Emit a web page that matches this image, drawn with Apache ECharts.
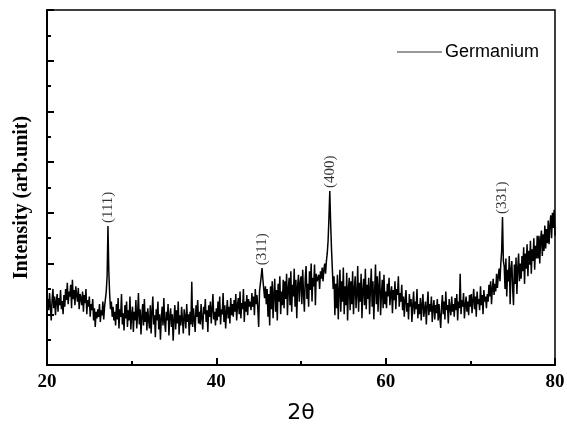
<!DOCTYPE html>
<html>
<head>
<meta charset="utf-8">
<script src="https://cdn.jsdelivr.net/npm/echarts@6/dist/echarts.min.js"></script>
<style>
html,body{margin:0;padding:0;background:#fff;}
#c{width:567px;height:424px;}
</style>
</head>
<body>
<div id="c"></div>
<script>
// 2θ sampling grid of the scan
const twoThetaStart = 20;
const twoThetaStep = 0.1;
// Intensity (arb. unit), one value per grid point (20.0 ... 80.0)
const intensity = [
  95, 130, 108, 142, 115, 88, 128, 150, 112, 135, 98, 125, 140, 105, 132, 118, 148, 110, 126, 100,
  138, 115, 150, 128, 162, 120, 145, 135, 158, 112, 168, 130, 148, 118, 155, 138, 125, 152, 110, 140,
  132, 118, 145, 105, 138, 122, 150, 100, 128, 115, 135, 95, 120, 108, 130, 88, 112, 75, 105, 92,
  110, 95, 120, 85, 108, 98, 125, 90, 115, 130, 145, 175, 274, 185, 140, 110, 125, 95, 115, 88,
  105, 78, 120, 90, 132, 72, 110, 95, 140, 80, 102, 68, 118, 92, 125, 75, 108, 88, 135, 70,
  98, 115, 65, 105, 88, 128, 72, 100, 142, 80, 110, 60, 95, 120, 78, 130, 85, 105, 68, 112,
  90, 72, 118, 62, 105, 135, 80, 98, 55, 110, 88, 125, 70, 100, 50, 92, 115, 78, 132, 85,
  65, 105, 88, 120, 58, 95, 112, 75, 100, 48, 90, 118, 70, 108, 82, 125, 60, 98, 78, 115,
  88, 62, 110, 95, 72, 120, 85, 100, 58, 105, 80, 164, 75, 112, 90, 65, 118, 95, 128, 82,
  105, 80, 120, 92, 70, 115, 100, 130, 85, 108, 65, 118, 95, 125, 82, 110, 140, 90, 105, 78,
  112, 88, 125, 95, 135, 80, 110, 100, 142, 85, 118, 72, 105, 128, 92, 115, 82, 132, 98, 120,
  95, 128, 105, 140, 88, 118, 132, 100, 145, 92, 122, 110, 150, 85, 125, 105, 138, 98, 130, 115,
  125, 108, 142, 115, 135, 98, 150, 120, 138, 110, 75, 145, 160, 175, 191, 168, 150, 132, 155, 120,
  150, 95, 140, 78, 155, 110, 165, 92, 138, 170, 105, 148, 88, 160, 125, 175, 100, 145, 118, 168,
  112, 165, 130, 180, 98, 150, 172, 118, 185, 105, 158, 135, 190, 115, 168, 92, 155, 178, 125, 162,
  175, 120, 188, 140, 105, 170, 195, 130, 160, 115, 185, 148, 200, 125, 172, 155, 198, 118, 180, 165,
  162, 178, 150, 185, 170, 192, 165, 188, 200, 180, 205, 220, 245, 290, 343, 280, 230, 190, 150, 175,
  98, 160, 112, 178, 90, 145, 188, 105, 165, 125, 192, 100, 155, 118, 182, 88, 150, 172, 108, 165,
  120, 185, 100, 150, 175, 112, 140, 195, 105, 162, 125, 180, 92, 148, 170, 118, 190, 110, 158, 130,
  172, 100, 150, 190, 115, 165, 90, 145, 198, 120, 175, 105, 155, 185, 98, 140, 168, 112, 178, 120,
  145, 112, 160, 135, 172, 118, 140, 155, 102, 148, 128, 165, 110, 150, 138, 175, 115, 142, 125, 158,
  108, 135, 95, 128, 148, 105, 122, 90, 140, 115, 130, 85, 118, 145, 100, 125, 110, 150, 92, 120,
  100, 132, 88, 118, 140, 95, 110, 125, 80, 115, 145, 98, 120, 105, 135, 85, 112, 128, 90, 118,
  102, 130, 88, 120, 95, 73, 115, 138, 100, 125, 90, 145, 108, 118, 82, 130, 112, 98, 135, 105,
  120, 95, 132, 108, 140, 88, 125, 112, 180, 100, 128, 115, 142, 92, 118, 135, 105, 125, 98, 138,
  115, 140, 102, 128, 150, 110, 135, 95, 145, 120, 130, 108, 155, 118, 138, 100, 148, 125, 135, 112,
  140, 125, 158, 135, 165, 120, 150, 170, 138, 160, 145, 180, 152, 175, 190, 165, 200, 225, 292, 205,
  195, 150, 210, 135, 188, 165, 215, 120, 190, 205, 150, 118, 198, 160, 212, 140, 190, 220, 165, 200,
  170, 215, 185, 232, 160, 220, 190, 238, 175, 225, 198, 245, 180, 228, 205, 250, 188, 235, 210, 255,
  210, 255, 200, 248, 265, 215, 258, 225, 275, 230, 268, 240, 285, 238, 275, 295, 250, 300, 270, 306,
  255
];
const peakAngles = [27.2, 45.4, 53.4, 73.8];
const peakHeights = [274, 191, 343, 292];
const peakLabels = ['(111)', '(311)', '(400)', '(331)'];
const seriesName = 'Germanium';

const lineData = intensity.map((v, i) => [+(twoThetaStart + i * twoThetaStep).toFixed(2), v]);
const peakData = peakAngles.map((a, i) => ({ value: [a, peakHeights[i]], name: peakLabels[i] }));

const chart = echarts.init(document.getElementById('c'), null, { renderer: 'canvas' });
chart.setOption({
  animation: false,
  backgroundColor: '#fff',
  grid: { left: 47, right: 12, top: 10, bottom: 59, show: true, borderColor: '#000', borderWidth: 1.5, backgroundColor: 'transparent', outerBoundsMode: 'none', containLabel: false },
  legend: {
    data: [seriesName],
    left: 392, top: 38,
    icon: 'rect', itemWidth: 45, itemHeight: 1, itemGap: 8,
    textStyle: { fontFamily: 'Liberation Sans', fontSize: 18, color: '#000', padding: [0, 0, 0, -2] }
  },
  xAxis: {
    type: 'value', min: 20, max: 80, interval: 20,
    name: '2θ', nameLocation: 'middle', nameGap: 37,
    nameTextStyle: { fontFamily: 'DejaVu Sans', fontSize: 22, color: '#000' },
    axisLine: { onZero: false, lineStyle: { color: '#000', width: 2 } },
    axisTick: { inside: true, length: 7, lineStyle: { color: '#000', width: 2 } },
    minorTick: { show: true, splitNumber: 2, length: 4, lineStyle: { color: '#000', width: 2 } },
    axisLabel: { fontFamily: 'Liberation Serif', fontWeight: 'bold', fontSize: 19, color: '#000', margin: 8 },
    splitLine: { show: false }
  },
  yAxis: {
    type: 'value', min: 0, max: 700, interval: 100,
    name: 'Intensity (arb.unit)', nameLocation: 'middle', nameGap: 15, nameRotate: 90,
    nameTextStyle: { fontFamily: 'Liberation Serif', fontWeight: 'bold', fontSize: 20, color: '#000', padding: [0, 20, 0, 0] },
    axisLine: { onZero: false, lineStyle: { color: '#000', width: 2 } },
    axisTick: { inside: true, length: 7, lineStyle: { color: '#000', width: 2 } },
    minorTick: { show: true, splitNumber: 2, length: 4, lineStyle: { color: '#000', width: 2 } },
    axisLabel: { show: false },
    splitLine: { show: false }
  },
  series: [
    {
      name: seriesName, type: 'line', data: lineData, showSymbol: false, symbol: 'none',
      lineStyle: { color: '#000', width: 1.5 }, itemStyle: { color: '#333' }
    },
    {
      name: 'peaks', type: 'scatter', data: peakData, symbolSize: 0,
      label: {
        show: true, formatter: p => p.name, position: 'top', distance: 3,
        rotate: 90, align: 'left', verticalAlign: 'middle',
        fontFamily: 'Liberation Serif', fontSize: 15, color: '#000'
      }
    }
  ]
});
</script>
</body>
</html>
